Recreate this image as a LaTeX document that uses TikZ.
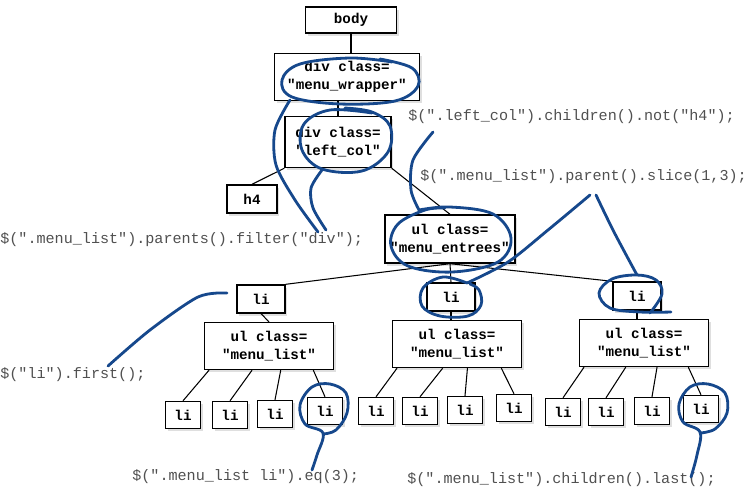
\documentclass[tikz,border=0pt]{standalone}
\usepackage{fontspec}
\setmonofont{Liberation Mono}
\usetikzlibrary{calc,shadows}

\definecolor{inkblue}{RGB}{22,72,140}
\definecolor{codegray}{RGB}{80,80,80}

\tikzset{
  tag/.style={draw, rectangle, fill=white, line width=0.8pt, align=center, inner sep=0pt,
    font=\ttfamily\bfseries\fontsize{8.1}{10.2}\selectfont,
    drop shadow={shadow xshift=1.3pt, shadow yshift=-1.5pt, opacity=0.25}},
  leaf/.style={tag, minimum width=7mm, minimum height=5.4mm},
  listitem/.style={tag, minimum width=9.6mm, minimum height=5.6mm},
  ullist/.style={tag, minimum width=25.8mm, minimum height=9.4mm},
  query/.style={anchor=west, inner sep=0pt, text=codegray,
    font=\ttfamily\fontsize{8.6}{10}\selectfont},
  wire/.style={draw, line width=0.6pt},
  scribble/.style={draw=inkblue, line width=1.6pt, line cap=round, line join=round}
}

\begin{document}
\begin{tikzpicture}[x=0.02cm, y=-0.02cm]
    \useasboundingbox (0,0) rectangle (750,490);

    % the tree
    \node (body) [tag, minimum width=18.2mm, minimum height=5.2mm] at (351,20) {body};
    \node (wrapper) [tag, minimum width=29mm, minimum height=9.4mm] at (347,77) {div class=\\"menu\_wrapper"};
    \node (leftcol) [tag, minimum width=21.2mm, minimum height=10.2mm] at (338,142) {div class=\\"left\_col"};
    \node (hfour) [tag, minimum width=10mm, minimum height=5.6mm] at (252,199) {h4};
    \node (entrees) [tag, minimum width=26mm, minimum height=9.6mm] at (450,239) {ul class=\\"menu\_entrees"};

    \node (liA) [listitem] at (261,299) {li};
    \node (liB) [listitem] at (451,297) {li};
    \node (liC) [listitem] at (637,296) {li};

    \node (ulA) [ullist] at (269,346) {ul class=\\"menu\_list"};
    \node (ulB) [ullist] at (457,344) {ul class=\\"menu\_list"};
    \node (ulC) [ullist] at (644,343) {ul class=\\"menu\_list"};

    \node (la1) [leaf] at (183,415) {li};
    \node (la2) [leaf] at (230,415) {li};
    \node (la3) [leaf] at (275,414) {li};
    \node (la4) [leaf] at (325,411) {li};
    \node (lb1) [leaf] at (376,411) {li};
    \node (lb2) [leaf] at (420,411) {li};
    \node (lb3) [leaf] at (465,410) {li};
    \node (lb4) [leaf] at (514,408) {li};
    \node (lc1) [leaf] at (563,412) {li};
    \node (lc2) [leaf] at (606,412) {li};
    \node (lc3) [leaf] at (652,411) {li};
    \node (lc4) [leaf] at (701,409) {li};

    \draw[wire] (body.south) -- (body.south |- wrapper.north);
    \draw[wire] (wrapper.south -| leftcol.north) -- (leftcol.north);
    \draw[wire] (leftcol.south west) -- (hfour.north);
    \draw[wire] (leftcol.south east) -- (entrees.north);
    \draw[wire] (entrees.south) -- (liA.north east);
    \draw[wire] (entrees.south) -- (liB.north);
    \draw[wire] (entrees.south) -- (liC.north west);
    \draw[wire] (liA.south) -- (ulA.north);
    \draw[wire] (liB.south) -- (liB.south |- ulB.north);
    \draw[wire] (liC.south) -- (liC.south |- ulC.north);

    \draw[wire] ($(ulA.south west)!0.04!(ulA.south east)$) -- (la1.north);
    \draw[wire] ($(ulA.south west)!0.37!(ulA.south east)$) -- (la2.north);
    \draw[wire] ($(ulA.south west)!0.59!(ulA.south east)$) -- (la3.north);
    \draw[wire] ($(ulA.south west)!0.84!(ulA.south east)$) -- (la4.north);
    \draw[wire] ($(ulB.south west)!0.04!(ulB.south east)$) -- (lb1.north);
    \draw[wire] ($(ulB.south west)!0.39!(ulB.south east)$) -- (lb2.north);
    \draw[wire] ($(ulB.south west)!0.58!(ulB.south east)$) -- (lb3.north);
    \draw[wire] ($(ulB.south west)!0.84!(ulB.south east)$) -- (lb4.north);
    \draw[wire] ($(ulC.south west)!0.04!(ulC.south east)$) -- (lc1.north);
    \draw[wire] ($(ulC.south west)!0.36!(ulC.south east)$) -- (lc2.north);
    \draw[wire] ($(ulC.south west)!0.60!(ulC.south east)$) -- (lc3.north);
    \draw[wire] ($(ulC.south west)!0.84!(ulC.south east)$) -- (lc4.north);

    % the jQuery calls
    \node (qparents) [query] at (0,240) {\$(".menu\_list").parents().filter("div");};
    \node (qnot) [query] at (408,117) {\$(".left\_col").children().not("h4");};
    \node (qslice) [query] at (420,177) {\$(".menu\_list").parent().slice(1,3);};
    \node (qfirst) [query] at (0,375) {\$("li").first();};
    \node (qeq) [query] at (132,477) {\$(".menu\_list li").eq(3);};
    \node (qlast) [query] at (407,480) {\$(".menu\_list").children().last();};

    % pen marks
    \draw[scribble] plot[smooth, tension=0.6] coordinates {(392,62) (350,58) (300,64) (282,80) (292,97) (340,104) (395,101) (418,86) (412,68) (380,59)};
    \draw[scribble] plot[smooth] coordinates {(290,100) (275,130) (276,165) (295,200) (318,232)};
    \draw[scribble] plot[smooth, tension=0.6] coordinates {(372,113) (330,110) (304,124) (302,150) (322,169) (362,171) (388,152) (390,126) (372,112) (345,108)};
    \draw[scribble] plot[smooth] coordinates {(322,170) (311,188) (313,208) (326,230)};

    \draw[scribble] plot[smooth] coordinates {(433,132) (413,160) (411,190) (419,210)};
    \draw[scribble] plot[smooth, tension=0.6] coordinates {(419,210) (450,207) (493,214) (511,238) (498,262) (452,272) (408,266) (391,246) (398,224) (425,210) (445,208)};

    \draw[scribble] plot[smooth] coordinates {(590,195) (548,230) (508,262) (467,283)};
    \draw[scribble] plot[smooth, tension=0.6] coordinates {(467,283) (443,277) (423,288) (422,306) (440,316) (468,316) (481,305) (479,290) (470,284)};
    \draw[scribble] plot[smooth] coordinates {(596,195) (614,232) (637,275)};
    \draw[scribble] plot[smooth, tension=0.6] coordinates {(671,312) (640,312) (610,308) (599,293) (612,279) (637,275) (656,280) (662,294) (650,313)};

    \draw[scribble] plot[smooth] coordinates {(108,366) (150,330) (198,297) (227,293)};

    \draw[scribble] plot[smooth, tension=0.6] coordinates {(312,470) (317,455) (323,433) (305,424) (300,405) (312,387) (330,384) (346,393) (347,413) (336,430) (323,434)};
    \draw[scribble] plot[smooth, tension=0.6] coordinates {(691,477) (697,455) (700,432) (683,422) (679,404) (690,387) (708,384) (725,393) (727,413) (715,429) (700,433)};
\end{tikzpicture}
\end{document}
